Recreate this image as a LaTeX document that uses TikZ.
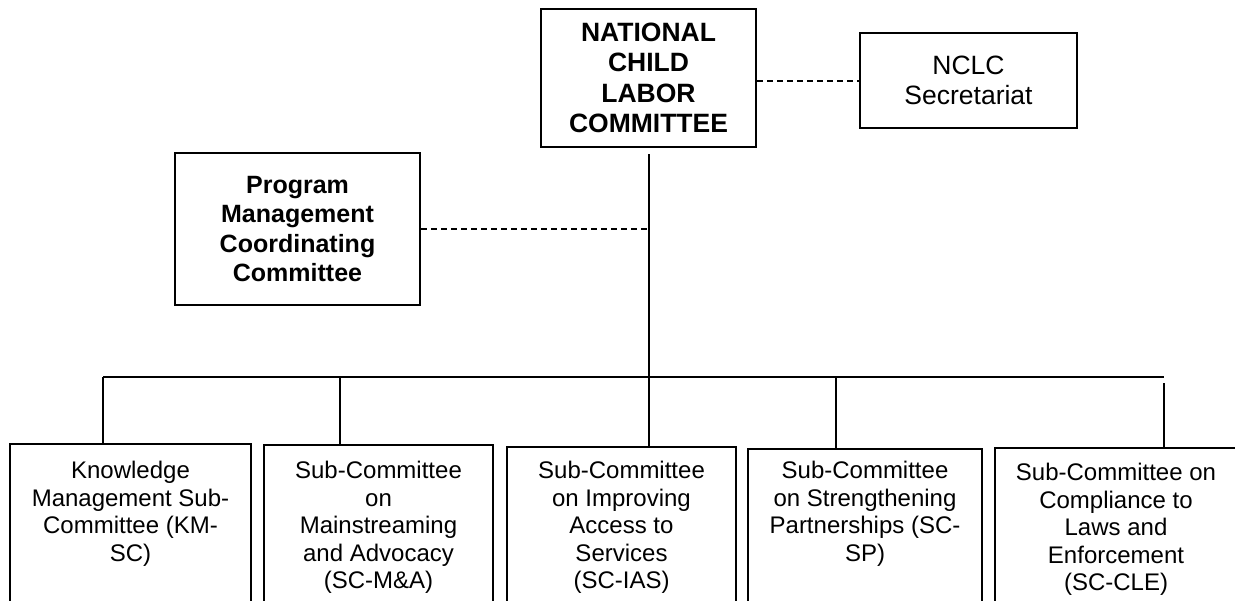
\documentclass[tikz,border=0pt]{standalone}
\usepackage{fontspec}
\setmainfont{Liberation Sans}
\begin{document}
\begin{tikzpicture}[x=0.5pt,y=-0.5pt,
  box/.style={draw, line width=1pt, inner sep=0pt, align=center},
  topbox/.style={box, line width=1.4pt},
  subbox/.style={draw, line width=1pt, inner sep=0pt, minimum height=90pt, anchor=north},
  subtext/.style={align=center, inner sep=0pt, anchor=north, font=\fontsize{12}{13.75}\selectfont},
  conn/.style={line width=1pt},
  dconn/.style={line width=1pt, dash pattern=on 3pt off 2pt}]
\clip (0,0) rectangle (1235,600);
\fill[white] (0,0) rectangle (1235,600);
% top level
\node[topbox, minimum width=107.5pt, minimum height=69pt, font=\fontsize{13.25}{15.25}\selectfont\bfseries] (nclc) at (648.5,78) {NATIONAL\\CHILD\\LABOR\\COMMITTEE};
\node[box, minimum width=108.5pt, minimum height=47.5pt, font=\fontsize{13.25}{15.25}\selectfont] (sec) at (968.5,80.5) {NCLC\\Secretariat};
\node[box, minimum width=122.5pt, minimum height=76pt, font=\fontsize{12.5}{14.8}\selectfont\bfseries] (pmcc) at (297.5,229) {Program\\Management\\Coordinating\\Committee};
% sub-committees
\node[subbox, minimum width=120.5pt] (s1) at (130.5,443) {};
\node[subbox, minimum width=114.5pt] (s2) at (378.5,444) {};
\node[subbox, minimum width=114.5pt] (s3) at (621.5,446) {};
\node[subbox, minimum width=117pt] (s4) at (865,448) {};
\node[subbox, minimum width=121pt] (s5) at (1116,447) {};
\node[subtext] (t1) at (130.5,461) {Knowledge\\Management Sub-\\Committee (KM-\\SC)};
\node[subtext] (t2) at (378.5,461) {Sub-Committee\\on\\Mainstreaming\\and Advocacy\\(SC-M\&A)};
\node[subtext] (t3) at (621.5,461) {Sub-Committee\\on Improving\\Access to\\Services\\(SC-IAS)};
\node[subtext] (t4) at (865,461) {Sub-Committee\\on Strengthening\\Partnerships (SC-\\SP)};
\node[subtext] (t5) at (1116,463) {Sub-Committee on\\Compliance to\\Laws and\\Enforcement\\(SC-CLE)};
% connectors
\coordinate (busL) at (103,377);
\coordinate (busR) at (1164,377);
\coordinate (b2) at (340,377);
\coordinate (b4) at (836,377);
\coordinate (b5) at (1164,383);
\draw[conn] (busL) -- (busR);
\draw[conn] (busL) -- (busL |- s1.north);
\draw[conn] (b2) -- (b2 |- s2.north);
\draw[conn] ([yshift=-3pt]nclc.south) -- (nclc.south |- s3.north);
\draw[conn] (b4) -- (b4 |- s4.north);
\draw[conn] (b5) -- (b5 |- s5.north);
\draw[dconn] (sec.west -| nclc.east) -- (sec.west);
\draw[dconn] (pmcc.east) -- (pmcc.east -| nclc.south);
\end{tikzpicture}
\end{document}
